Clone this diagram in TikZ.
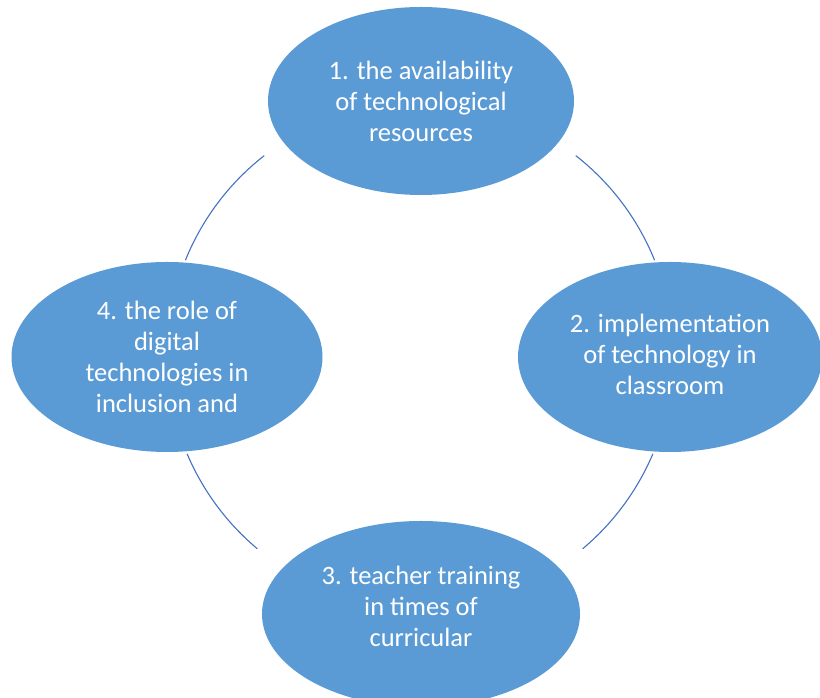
\documentclass[tikz,border=0pt]{standalone}
\usepackage{fontspec}
\setmainfont{Carlito}
\usetikzlibrary{shapes.geometric}
\definecolor{fillblue}{HTML}{5B9BD5}
\definecolor{lineblue}{HTML}{4472C4}
\tikzset{
  bubble/.style={ellipse, fill=fillblue, inner sep=0pt},
  bubtext/.style={text=white, align=center, inner sep=0pt,
    font=\fontsize{26.5pt}{31pt}\selectfont},
  ring/.style={draw=lineblue, line width=1.1pt}
}
\begin{document}
\begin{tikzpicture}[x=1pt,y=1pt]
\useasboundingbox (0,0) rectangle (820,698);
\coordinate (c) at (420,343);
\draw[ring] ([shift={(52:253pt)}]c) arc[start angle=52, end angle=22, radius=253pt];
\draw[ring] ([shift={(-23:253pt)}]c) arc[start angle=-23, end angle=-50, radius=253pt];
\draw[ring] ([shift={(128:253pt)}]c) arc[start angle=128, end angle=158, radius=253pt];
\draw[ring] ([shift={(203:253pt)}]c) arc[start angle=203, end angle=230, radius=253pt];
\node[bubble, minimum width=306pt, minimum height=188pt] (n1) at (421,597) {};
\node[bubble, minimum width=304pt, minimum height=190pt] (n2) at (670,341) {};
\node[bubble, minimum width=318pt, minimum height=186pt] (n3) at (421,84) {};
\node[bubble, minimum width=311pt, minimum height=190pt] (n4) at (167,341) {};
\node[bubtext] (t1) at (n1.center) {1. the availability\\of technological\\resources};
\node[bubtext] (t2) at ([yshift=3pt]n2.center) {2. implementation\\of technology in\\classroom};
\node[bubtext] (t3) at ([yshift=8pt]n3.center) {3. teacher training\\in times of\\curricular};
\node[bubtext] (t4) at (n4.center) {4. the role of\\digital\\technologies in\\inclusion and};
\end{tikzpicture}
\end{document}
